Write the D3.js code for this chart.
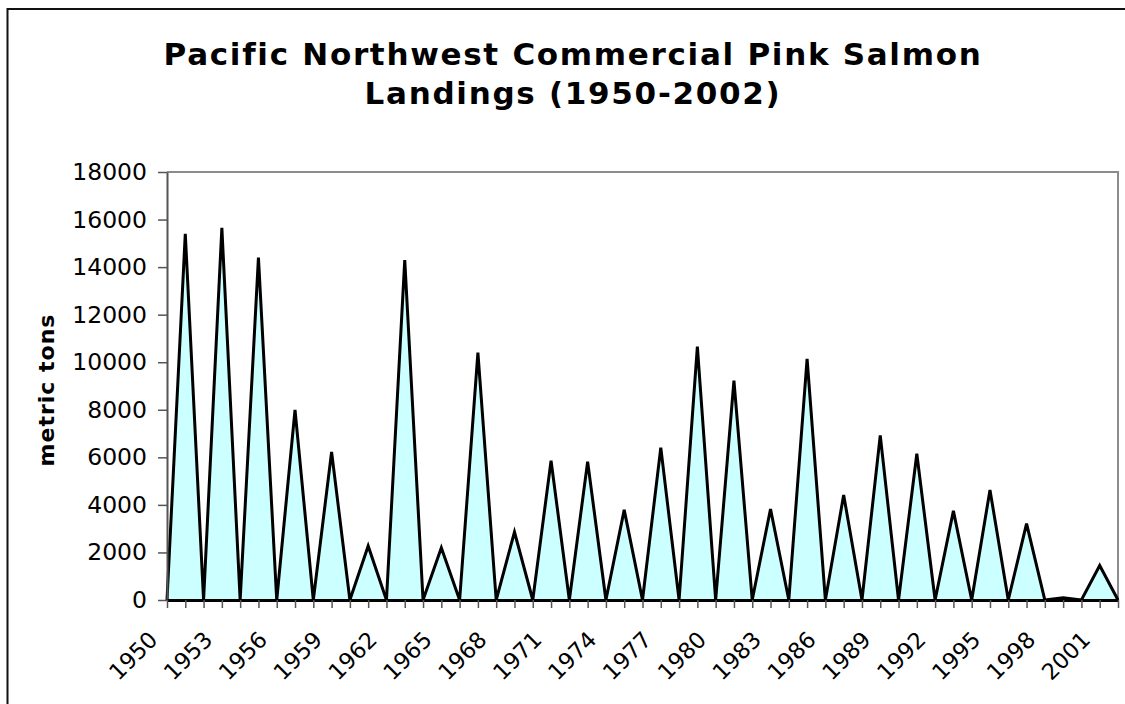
<!DOCTYPE html>
<html>
<head>
<meta charset="utf-8">
<script src="https://cdn.jsdelivr.net/npm/d3@7"></script>
<style>
  html, body { margin: 0; padding: 0; background: #fff; }
  svg { display: block; }
  text { font-family: "DejaVu Sans", Verdana, sans-serif; fill: #000; }
</style>
</head>
<body>
<svg id="chart" width="1125" height="704"></svg>
<script>
// Pacific Northwest commercial pink salmon landings, metric tons per year
const years = d3.range(1950, 2003);
const landings = [
  0, 15400, 0, 15650, 0, 14400, 0, 8000, 0, 6230,
  0, 2270, 0, 14300, 0, 2200, 0, 10400, 0, 2860,
  0, 5860, 0, 5820, 0, 3790, 0, 6410, 0, 10660,
  0, 9230, 0, 3830, 0, 10140, 0, 4420, 0, 6920,
  0, 6150, 0, 3750, 0, 4630, 0, 3210, 0, 90,
  0, 1450, 0
];
const yTicks = [0, 2000, 4000, 6000, 8000, 10000, 12000, 14000, 16000, 18000];
const xLabelYears = d3.range(1950, 2002, 3);
const titleLines = ["Pacific Northwest Commercial Pink Salmon", "Landings (1950-2002)"];
const yTitle = "metric tons";

const data = years.map((yr, i) => ({ year: yr, value: landings[i] }));

const svg = d3.select("#chart");
const plot = { left: 167, right: 1118, top: 172, bottom: 600 };

const x = d3.scalePoint().domain(years).range([plot.left, plot.right]);
const y = d3.scaleLinear().domain([0, 18000]).range([plot.bottom, plot.top]);

// outer chart frame
svg.append("rect")
  .attr("x", 7.5).attr("y", 9)
  .attr("width", 1140).attr("height", 720)
  .attr("fill", "none").attr("stroke", "#111").attr("stroke-width", 2);

// title
const title = svg.append("text")
  .attr("text-anchor", "middle")
  .style("font-weight", "bold")
  .style("font-size", "31px")
  .style("letter-spacing", "1.7px");
titleLines.forEach((t, i) => {
  title.append("tspan").attr("x", 573).attr("y", 65 + i * 38.5).text(t);
});

// plot area outline (top and right edges)
svg.append("path")
  .attr("d", `M${plot.left},${plot.top}H${plot.right}V${plot.bottom}`)
  .attr("fill", "none").attr("stroke", "#8c8c8c").attr("stroke-width", 2);

// filled area with black outline
svg.append("path")
  .datum(data)
  .attr("fill", "#ccffff")
  .attr("d", d3.area().x(d => x(d.year)).y0(y(0)).y1(d => y(d.value)));

svg.append("path")
  .datum(data)
  .attr("fill", "none")
  .attr("stroke", "#000")
  .attr("stroke-width", 3)
  .attr("stroke-linejoin", "miter")
  .attr("d", d3.line().x(d => x(d.year)).y(d => y(d.value)));

// y axis
const yAxis = svg.append("g")
  .attr("transform", `translate(${plot.left},0)`)
  .call(d3.axisLeft(y).tickValues(yTicks).tickFormat(d3.format("d")).tickSize(9).tickSizeOuter(0));
yAxis.select(".domain").attr("stroke", "#555").attr("stroke-width", 2);
yAxis.selectAll(".tick line").attr("stroke", "#555").attr("stroke-width", 1.5);
yAxis.selectAll(".tick text")
  .attr("x", -20)
  .style("font-size", "23.5px")
  .style("font-family", "'DejaVu Sans', Verdana, sans-serif")
  .attr("fill", "#000");

// x axis
const xAxis = svg.append("g")
  .attr("transform", `translate(0,${plot.bottom})`)
  .call(d3.axisBottom(x).tickValues(years).tickFormat("").tickSize(8).tickSizeOuter(0));
xAxis.select(".domain").attr("stroke", "#000").attr("stroke-width", 3);
xAxis.selectAll(".tick line").attr("stroke", "#555").attr("stroke-width", 1.5);

// rotated year labels every third year
svg.append("g").selectAll("text")
  .data(xLabelYears)
  .join("text")
  .attr("text-anchor", "end")
  .style("font-size", "22.5px")
  .attr("transform", d => `translate(${x(d) - 8},${plot.bottom + 41}) rotate(-45)`)
  .text(d => d);

// y axis title
svg.append("text")
  .attr("text-anchor", "middle")
  .style("font-weight", "bold")
  .style("font-size", "22px")
  .style("letter-spacing", "1px")
  .attr("transform", `translate(54,${(plot.top + plot.bottom) / 2 + 4}) rotate(-90)`)
  .text(yTitle);
</script>
</body>
</html>
